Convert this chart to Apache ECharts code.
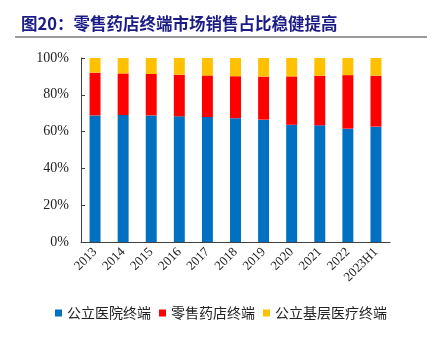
<!DOCTYPE html>
<html>
<head>
<meta charset="utf-8">
<script src="https://cdn.jsdelivr.net/npm/echarts@6/dist/echarts.min.js"></script>
<style>
html,body{margin:0;padding:0;background:#fff;}
#chart{width:441px;height:361px;}
</style>
</head>
<body>
<div id="chart"></div>
<script>
const categories = ['2013','2014','2015','2016','2017','2018','2019','2020','2021','2022','2023H1'];
const seriesNames = ['公立医院终端','零售药店终端','公立基层医疗终端'];
const hospital = [68.8, 69.0, 68.8, 68.3, 67.9, 67.3, 66.5, 63.7, 63.4, 61.6, 62.7];
const retail   = [23.2, 22.6, 22.5, 22.6, 22.6, 22.8, 23.4, 26.3, 27.0, 29.1, 27.7];
const primary  = [ 8.0,  8.4,  8.7,  9.1,  9.5,  9.9, 10.1, 10.0,  9.6,  9.3,  9.6];
const yTicks = [0, 20, 40, 60, 80, 100];
const colors = ['#0070C0', '#FF0000', '#FFC000'];

const chart = echarts.init(document.getElementById('chart'), null, {renderer: 'canvas'});
const serif = '"Liberation Serif","Times New Roman",serif';
const cjk = '"Noto Sans CJK SC",sans-serif';
chart.setOption({
  animation: false,
  title: {
    text: '图20：零售药店终端市场销售占比稳健提高',
    left: 16, top: 10,
    textStyle: {color: '#1c1c86', fontSize: 16.5, fontWeight: 'bold', fontFamily: cjk}
  },
  graphic: [{
    type: 'rect', shape: {x: 15, y: 36, width: 412, height: 2},
    style: {fill: '#9a9a9a'}
  }],
  legend: {
    bottom: 36, left: 50,
    itemWidth: 7, itemHeight: 7, itemGap: 8,
    icon: 'rect',
    textStyle: {fontSize: 14, fontFamily: cjk, color: '#222'},
    data: seriesNames
  },
  grid: {left: 81, right: 51, top: 58, bottom: 119},
  xAxis: {
    type: 'category', data: categories,
    axisLine: {lineStyle: {color: '#404040', width: 1}},
    axisTick: {inside: true, length: 4, lineStyle: {color: '#404040'}},
    axisLabel: {rotate: 45, fontFamily: serif, fontSize: 13, color: '#222', margin: 8, interval: 0}
  },
  yAxis: {
    type: 'value', min: 0, max: 100, interval: 20,
    axisLine: {show: true, lineStyle: {color: '#404040'}},
    axisTick: {show: true, inside: true, length: 4, lineStyle: {color: '#404040'}},
    splitLine: {show: false},
    axisLabel: {fontFamily: serif, fontSize: 14, color: '#222', margin: 12,
      formatter: v => yTicks.includes(v) ? v + '%' : ''}
  },
  series: [
    {name: seriesNames[0], type: 'bar', stack: 's', data: hospital, barWidth: '39%', itemStyle: {color: colors[0]}},
    {name: seriesNames[1], type: 'bar', stack: 's', data: retail, barWidth: '39%', itemStyle: {color: colors[1]}},
    {name: seriesNames[2], type: 'bar', stack: 's', data: primary, barWidth: '39%', itemStyle: {color: colors[2]}}
  ]
});
</script>
</body>
</html>
